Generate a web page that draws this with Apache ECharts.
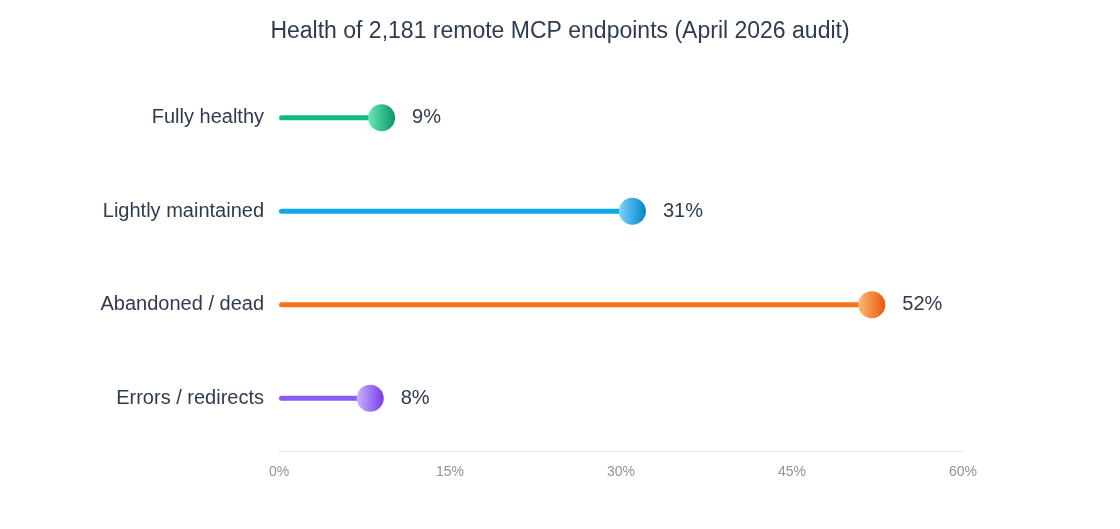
<!DOCTYPE html>
<html>
<head>
<meta charset="utf-8">
<script src="https://cdn.jsdelivr.net/npm/echarts@6/dist/echarts.min.js"></script>
<style>
  html, body { margin: 0; padding: 0; background: #fff; }
  #main { width: 1120px; height: 529px; }
</style>
</head>
<body>
<div id="main"></div>
<script>
// data
var categories = ['Fully healthy', 'Lightly maintained', 'Abandoned / dead', 'Errors / redirects'];
var shares = [9, 31, 52, 8];
var ticks = [0, 15, 30, 45, 60];

// colours per row: line, dot light, dot dark
var lineColors = ['#10b981', '#0ea5e9', '#f97316', '#8b5cf6'];
var dotLight = ['#6ee7b7', '#7dd3fc', '#fdba74', '#c4b5fd'];
var dotDark = ['#059669', '#0284c7', '#ea580c', '#7c3aed'];

var font = '"Liberation Sans", Arial, Helvetica, sans-serif';

var chart = echarts.init(document.getElementById('main'));

var option = {
  textStyle: { fontFamily: font },
  title: {
    text: 'Health of 2,181 remote MCP endpoints (April 2026 audit)',
    left: 'center',
    top: 15,
    textStyle: { fontSize: 23, fontWeight: 'normal', color: '#2f3b4e', fontFamily: font }
  },
  grid: { left: 279, right: 157, top: 71, bottom: 84 },
  xAxis: {
    type: 'value',
    min: ticks[0],
    max: ticks[ticks.length - 1],
    interval: 15,
    offset: 6,
    axisLine: { show: true, lineStyle: { color: '#e2e4e8', width: 1 } },
    axisTick: { show: false },
    splitLine: { show: false },
    axisLabel: { formatter: '{value}%', color: '#8e949c', fontSize: 14, margin: 14, fontFamily: font }
  },
  yAxis: {
    type: 'category',
    data: categories,
    inverse: true,
    axisLine: { show: false },
    axisTick: { show: false },
    axisLabel: { color: '#2f3b4e', fontSize: 20, margin: 15, fontFamily: font }
  },
  series: [
    {
      type: 'bar',
      barWidth: 5,
      silent: true,
      data: shares.map(function (v, i) {
        return { value: v, itemStyle: { color: lineColors[i], borderRadius: 3 } };
      })
    },
    {
      type: 'scatter',
      symbol: 'circle',
      symbolSize: 27,
      z: 3,
      data: shares.map(function (v, i) {
        return {
          value: [v, i],
          itemStyle: {
            opacity: 1,
            color: new echarts.graphic.LinearGradient(0, 0, 1, 0, [
              { offset: 0, color: dotLight[i] },
              { offset: 1, color: dotDark[i] }
            ])
          }
        };
      }),
      label: {
        show: true,
        position: 'right',
        distance: 17,
        formatter: function (p) { return p.value[0] + '%'; },
        color: '#2f3b4e',
        fontSize: 20,
        fontFamily: font
      }
    }
  ]
};

chart.setOption(option);
</script>
</body>
</html>
